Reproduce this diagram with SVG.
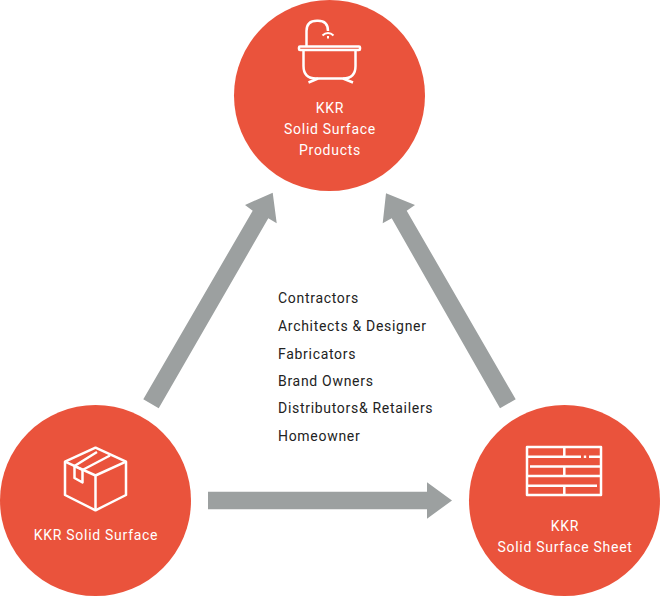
<svg xmlns="http://www.w3.org/2000/svg" width="660" height="596" viewBox="0 0 660 596">
<style>
.c{fill:#ea533c}
.a{fill:#9ca0a0}
.i{fill:none;stroke:#fff;stroke-width:2.500;stroke-linejoin:round;stroke-linecap:butt}
text{font-family:Roboto,"Liberation Sans",sans-serif;font-size:14px;letter-spacing:.7px}
.w{fill:#fff;text-anchor:middle;letter-spacing:.72px}
.d{fill:#222}
</style>
<rect width="660" height="596" fill="#fff"/>
<g id="connectors">
<polygon class="a" points="143.300,399.300 252.700,210.700 245,205 272.700,192.700 276.700,223.300 268.300,218.300 158.700,408.300"/>
<polygon class="a" points="515.700,399.300 406.700,210.700 415,205 386,193.300 382.700,223.300 391.700,218.300 500,408.300"/>
<polygon class="a" points="208,491.700 427,491.700 427,482.300 452,500.500 427,518.700 427,509.300 208,509.300"/>
</g>
<g id="node-products">
<circle class="c" cx="329.500" cy="95.500" r="95.500"/>
<g class="i">
<path d="M306.500 46V31Q306.500 20.700 317 20.700H318Q328 20.700 328 31"/>
<path d="M322.500 35.500Q325 33 328 33M333.500 35.500Q331 33 328 33M328 36V38.500" stroke-width="2"/>
<rect x="299" y="46.500" width="61" height="3.500" rx="1"/>
<path d="M303.500 50V66Q303.500 78.500 316 78.500H343Q355.500 78.500 355.500 66V50"/>
<path d="M308.500 82.500L318 78.500M353 82.500L343 78.500"/>
</g>
<text class="w" x="330" y="113">KKR</text>
<text class="w" x="330" y="134">Solid Surface</text>
<text class="w" x="330" y="155">Products</text>
</g>
<g id="node-surface">
<circle class="c" cx="95.500" cy="500.500" r="95.500"/>
<g class="i">
<path d="M65 461.700L95.500 447.700L126 461.700V495L95.500 510.300L65 495Z"/>
<path d="M65 461.700L95.500 475.500L126 461.700M95.500 475.500V510.300"/>
<path d="M74.500 466V478L82.500 482.500V470L110 455.500M82.500 470L74.500 466L97 452"/>
</g>
<text class="w" x="96" y="540">KKR Solid Surface</text>
</g>
<g id="node-sheet">
<circle class="c" cx="564.500" cy="500.500" r="95.500"/>
<g class="i">
<rect x="527" y="447" width="74" height="48"/>
<path d="M527 456.700H581M589 456.700H601M530 466.500H601M527 476H601M527 485.700H597M564.300 447V456.700M564.300 466.500V476M564.300 485.700V495M583.800 456.700H586.200"/>
</g>
<text class="w" x="565" y="531">KKR</text>
<text class="w" x="565" y="552">Solid Surface Sheet</text>
</g>
<g id="list">
<text class="d" x="278" y="303">Contractors</text>
<text class="d" x="278" y="331">Architects &amp; Designer</text>
<text class="d" x="278" y="359">Fabricators</text>
<text class="d" x="278" y="386">Brand Owners</text>
<text class="d" x="278" y="413">Distributors&amp; Retailers</text>
<text class="d" x="278" y="441">Homeowner</text>
</g>
</svg>
